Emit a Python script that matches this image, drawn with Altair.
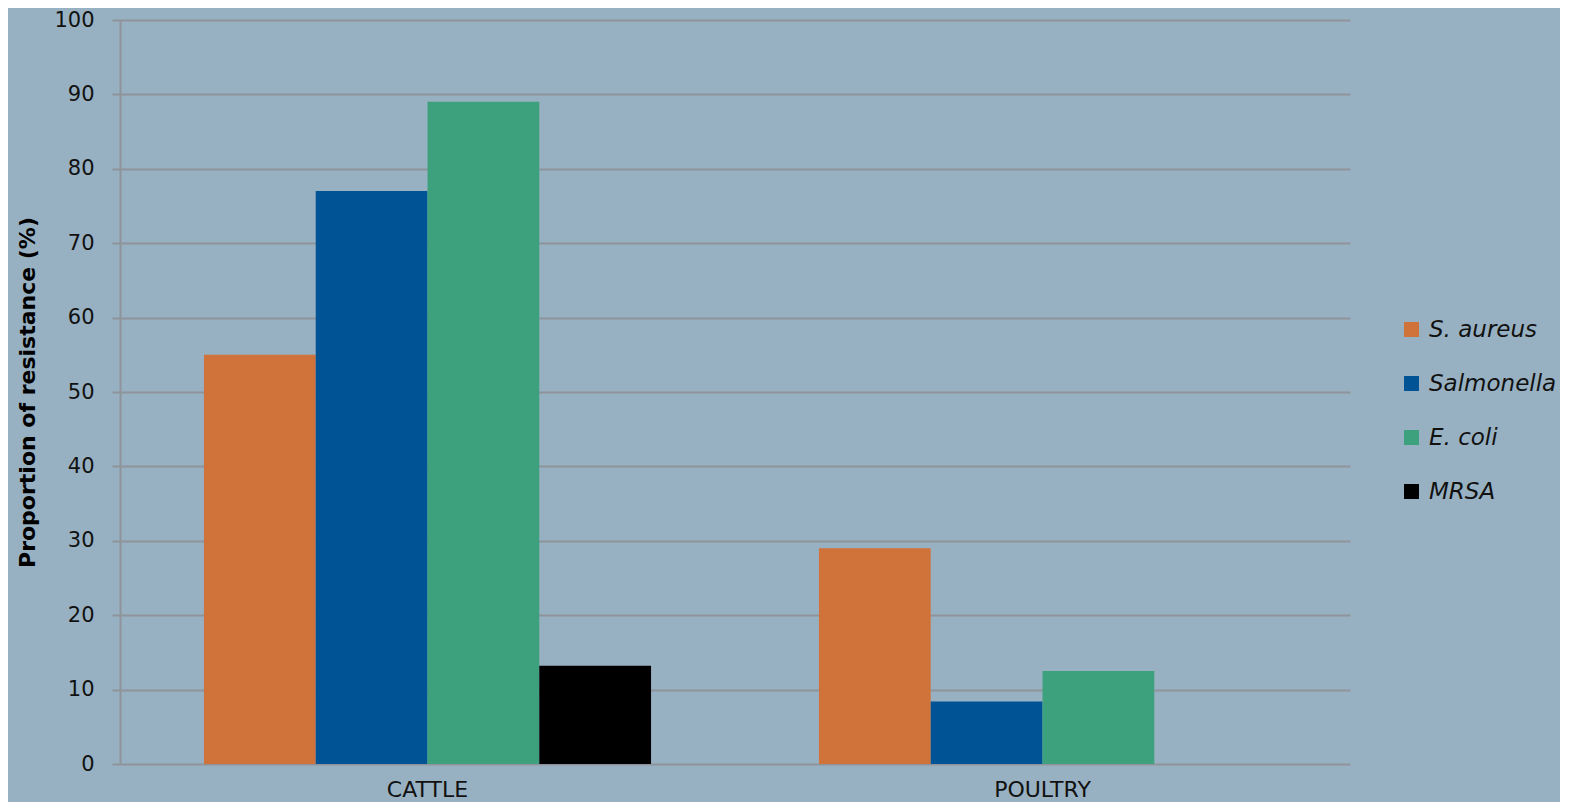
import altair as alt
import pandas as pd

categories = ["CATTLE", "CATTLE", "CATTLE", "CATTLE", "POULTRY", "POULTRY", "POULTRY"]
organisms = ["S. aureus", "Salmonella", "E. coli", "MRSA", "S. aureus", "Salmonella", "E. coli"]
values = [55, 77, 89, 13.2, 29, 8.4, 12.5]

series = ["S. aureus", "Salmonella", "E. coli", "MRSA"]
colors = ["#D0733A", "#005395", "#3CA17C", "#000000"]
y_ticks = [0, 10, 20, 30, 40, 50, 60, 70, 80, 90, 100]

df = pd.DataFrame({"group": categories, "organism": organisms, "value": values})

FONT = "DejaVu Sans"
GRID = "#8e9499"

chart = alt.Chart(df).mark_bar().encode(
    x=alt.X("group:N", title=None, sort=["CATTLE", "POULTRY"],
            scale=alt.Scale(paddingInner=0.273, paddingOuter=0.1365),
            axis=alt.Axis(labelAngle=0, labelFontSize=22, labelFont=FONT, labelColor="#111111",
                          labelPadding=15, ticks=False, domain=False)),
    xOffset=alt.XOffset("organism:N", scale=alt.Scale(domain=series)),
    y=alt.Y("value:Q", title="Proportion of resistance (%)",
            scale=alt.Scale(domain=[0, 100]),
            axis=alt.Axis(values=y_ticks, labelFontSize=21, labelFont=FONT, labelColor="#111111",
                          labelPadding=18, tickSize=8, tickColor=GRID, tickWidth=2,
                          domainColor=GRID, domainWidth=2,
                          gridColor=GRID, gridWidth=2,
                          titleFontSize=22, titleFont=FONT, titleFontWeight="bold",
                          titleColor="#000000", titlePadding=14)),
    color=alt.Color("organism:N", scale=alt.Scale(domain=series, range=colors),
                    legend=alt.Legend(title=None, orient="none", legendX=1280, legendY=298,
                                      symbolType="square", symbolSize=225, symbolStrokeWidth=0,
                                      labelFontSize=23, labelFont=FONT, labelFontStyle="italic",
                                      labelColor="#111111", rowPadding=30, labelOffset=6)),
).properties(
    width=1230, height=744,
    autosize=alt.AutoSizeParams(type="none"),
    padding={"left": 112, "top": 12, "right": 210, "bottom": 38},
    background="#98b1c2",
).configure_view(stroke=None)

chart.save("out.html", embed_options={"renderer": "svg", "actions": False})
